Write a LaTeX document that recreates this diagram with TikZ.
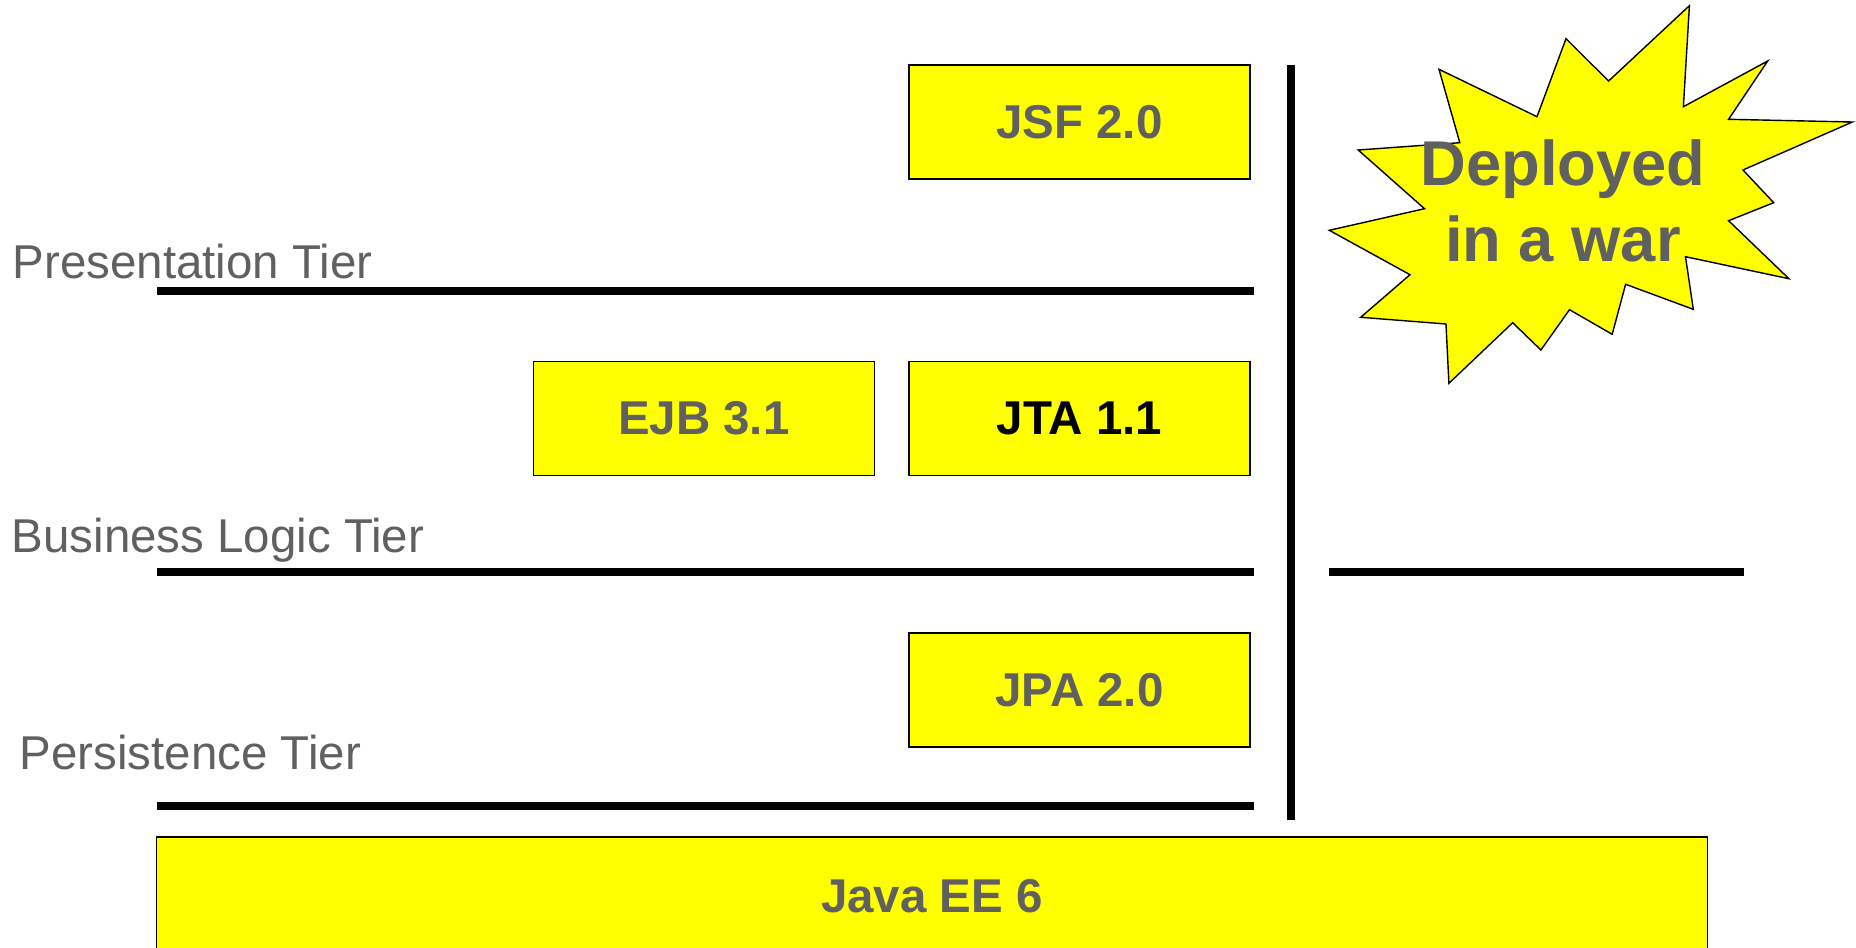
\documentclass[tikz,border=0pt]{standalone}
\usepackage{fontspec}
\setmainfont{Liberation Sans}
\usetikzlibrary{positioning}
\definecolor{tiergray}{RGB}{96,96,96}
\definecolor{boxyellow}{RGB}{255,255,0}

\begin{document}
\begin{tikzpicture}[
    x=0.01cm, y=-0.01cm,
    techbox/.style={rectangle, draw=black, line width=0.4pt, fill=boxyellow, minimum width=3.41cm, minimum height=1.14cm, inner sep=0pt, font=\fontsize{13.5}{16}\selectfont\bfseries, text=tiergray},
    tierlabel/.style={anchor=base west, inner sep=0pt, font=\fontsize{13.5}{16}\selectfont, text=tiergray},
    tierline/.style={line width=0.072cm},
]
\useasboundingbox (0,0) rectangle (1856,948);

% Presentation tier
\node[techbox] (jsf) at (1079.5,122) {JSF 2.0};
\node[tierlabel] (prestier) at (12,278) {Presentation Tier};
\draw[tierline] (157,291) -- (1254,291);

% Business logic tier
\node[techbox, below=1.81cm of jsf, text=black] (jta) {JTA 1.1};
\node[techbox, left=0.33cm of jta] (ejb) {EJB 3.1};
\node[tierlabel] (busstier) at (11,552) {Business Logic Tier};
\draw[tierline] (157,572) -- (1254,572);
\draw[tierline] (1329,572) -- (1744,572);

% Persistence tier
\node[techbox, below=1.56cm of jta] (jpa) {JPA 2.0};
\node[tierlabel] (perstier) at (19,769) {Persistence Tier};
\draw[tierline] (157,806) -- (1254,806);

% Platform
\node[techbox, minimum width=15.5cm, minimum height=1.18cm] (javaee) at (932,896) {Java EE 6};

% War boundary
\draw[tierline] (1291,65) -- (1291,820);

% Burst
\draw[fill=boxyellow, line width=0.4pt]
    (1689.4,5.7) -- (1683.4,106.7) -- (1767.7,61) -- (1728.6,119.3) -- (1852.4,122)
    -- (1743,170) -- (1773.7,202.7) -- (1728.6,220.7) -- (1788.9,278.7) -- (1685.5,256.7)
    -- (1693.3,309.3) -- (1625.6,284.3) -- (1612.2,334.3) -- (1569.5,309.7) -- (1540.9,350)
    -- (1512.7,322.7) -- (1448.9,383.3) -- (1446,324) -- (1360.7,317.3) -- (1410,274.7)
    -- (1329.3,230.3) -- (1424.5,208.7) -- (1358.2,150) -- (1459.8,142.7) -- (1439,69.3)
    -- (1537,116.7) -- (1566,38.7) -- (1608.6,81) -- cycle;
\node[align=center, inner sep=0pt, font=\fontsize{18}{21.6}\selectfont\bfseries, text=tiergray] (deployed) at (1563,201) {Deployed\\in a war};
\end{tikzpicture}
\end{document}
